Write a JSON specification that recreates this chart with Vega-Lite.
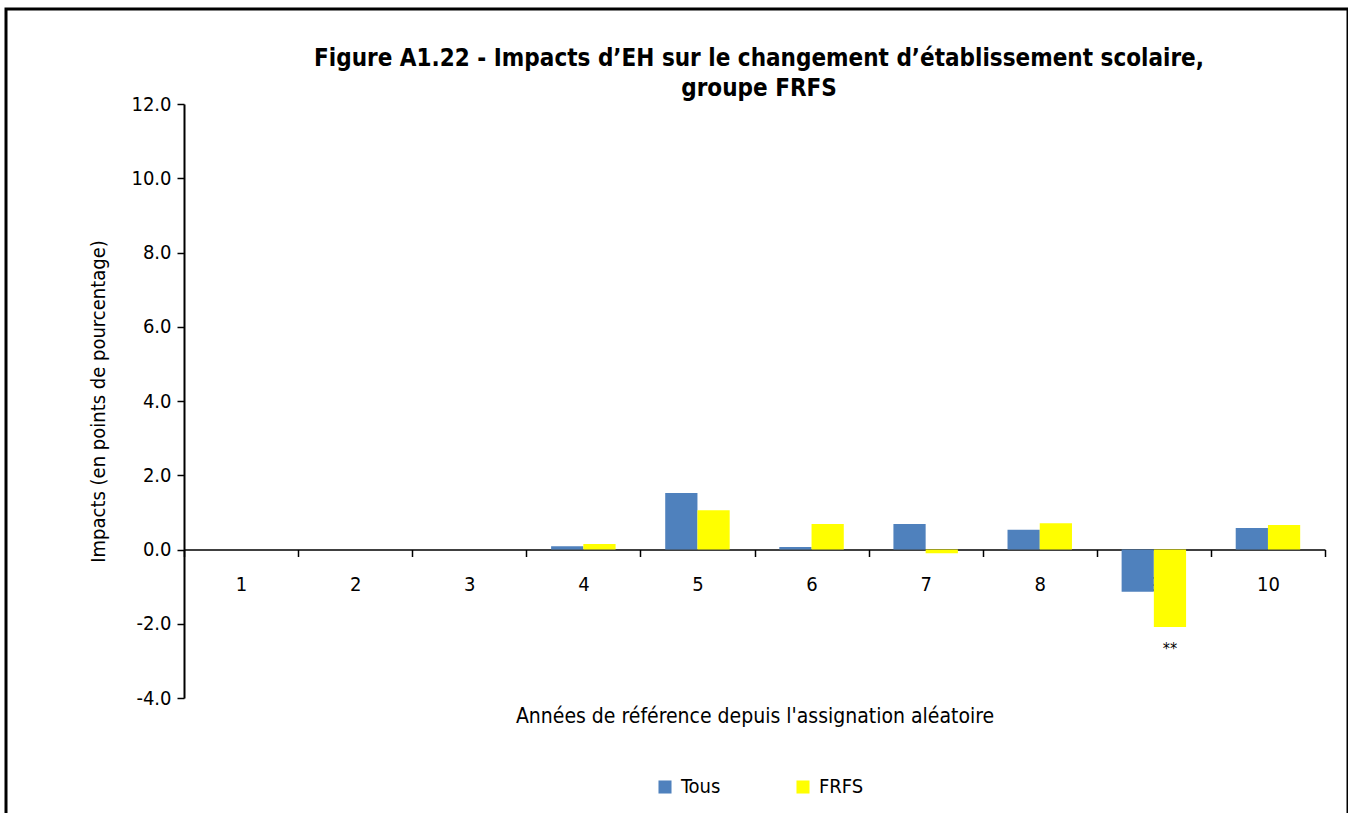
{
  "$schema": "https://vega.github.io/schema/vega-lite/v6.json",
  "width": 1342,
  "height": 806,
  "autosize": {"type": "none"},
  "padding": {"left": 6, "top": 9, "right": 0, "bottom": 0},
  "background": "white",
  "config": {
    "font": "Liberation Sans Narrow, DejaVu Sans Condensed, sans-serif",
    "view": {"stroke": "black", "strokeWidth": 3}
  },
  "title": {
    "text": ["Figure A1.22 - Impacts d’EH sur le changement d’établissement scolaire,", "groupe FRFS"],
    "font": "Liberation Sans Narrow, DejaVu Sans Condensed, sans-serif",
    "fontSize": 24,
    "fontWeight": "bold",
    "color": "black",
    "lineHeight": 30,
    "anchor": "middle",
    "dx": 82,
    "offset": -92
  },
  "data": {
    "values": [
      {"year": 1, "group": "Tous", "value": null, "sig": null},
      {"year": 1, "group": "FRFS", "value": null, "sig": null},
      {"year": 2, "group": "Tous", "value": null, "sig": null},
      {"year": 2, "group": "FRFS", "value": null, "sig": null},
      {"year": 3, "group": "Tous", "value": null, "sig": null},
      {"year": 3, "group": "FRFS", "value": null, "sig": null},
      {"year": 4, "group": "Tous", "value": 0.09, "sig": null},
      {"year": 4, "group": "FRFS", "value": 0.15, "sig": null},
      {"year": 5, "group": "Tous", "value": 1.52, "sig": null},
      {"year": 5, "group": "FRFS", "value": 1.06, "sig": null},
      {"year": 6, "group": "Tous", "value": 0.07, "sig": null},
      {"year": 6, "group": "FRFS", "value": 0.69, "sig": null},
      {"year": 7, "group": "Tous", "value": 0.69, "sig": null},
      {"year": 7, "group": "FRFS", "value": -0.1, "sig": null},
      {"year": 8, "group": "Tous", "value": 0.53, "sig": null},
      {"year": 8, "group": "FRFS", "value": 0.71, "sig": null},
      {"year": 9, "group": "Tous", "value": -1.14, "sig": null},
      {"year": 9, "group": "FRFS", "value": -2.09, "sig": "**"},
      {"year": 10, "group": "Tous", "value": 0.58, "sig": null},
      {"year": 10, "group": "FRFS", "value": 0.66, "sig": null}
    ]
  },
  "encoding": {
    "x": {
      "field": "year",
      "type": "ordinal",
      "scale": {"domain": [1, 2, 3, 4, 5, 6, 7, 8, 9, 10], "range": [178, 1319], "paddingInner": 0, "paddingOuter": 0},
      "axis": {
        "orient": "bottom",
        "offset": -265.5,
        "labelAngle": 0,
        "title": "Années de référence depuis l'assignation aléatoire",
        "titleFontSize": 21,
        "titleFontWeight": "normal",
        "titleColor": "black",
        "titlePadding": 111,
        "labelFontSize": 20,
        "labelColor": "black",
        "labelPadding": 18,
        "tickBand": "extent",
        "tickSize": 7,
        "tickColor": "black",
        "tickWidth": 1.5,
        "domainColor": "black",
        "domainWidth": 1.5,
        "grid": false
      }
    },
    "xOffset": {
      "field": "group",
      "type": "nominal",
      "sort": ["Tous", "FRFS"],
      "scale": {"paddingInner": 0, "paddingOuter": 0.77}
    },
    "y": {
      "field": "value",
      "type": "quantitative",
      "scale": {"domain": [-4, 12], "range": [689, 95], "nice": false, "zero": false},
      "axis": {
        "orient": "left",
        "offset": -178,
        "values": [-4, -2, 0, 2, 4, 6, 8, 10, 12],
        "labelExpr": "datum.value < 0 ? '-' + format(-datum.value, '.1f') : format(datum.value, '.1f')",
        "title": "Impacts (en points de pourcentage)",
        "titleFontSize": 20,
        "titleFontWeight": "normal",
        "titleColor": "black",
        "titlePadding": 22,
        "labelFontSize": 20,
        "labelColor": "black",
        "labelPadding": 6,
        "tickSize": 7,
        "tickColor": "black",
        "tickWidth": 1.5,
        "domainColor": "black",
        "domainWidth": 2,
        "grid": false
      }
    }
  },
  "layer": [
    {
      "mark": {"type": "bar"},
      "encoding": {
        "color": {
          "field": "group",
          "type": "nominal",
          "sort": ["Tous", "FRFS"],
          "scale": {"domain": ["Tous", "FRFS"], "range": ["#4F81BD", "#FFFF00"]},
          "legend": {
            "title": null,
            "orient": "none",
            "direction": "horizontal",
            "legendX": 649,
            "legendY": 768,
            "symbolType": "square",
            "symbolSize": 170,
            "symbolStrokeWidth": 0,
            "labelFontSize": 20,
            "labelColor": "black",
            "labelOffset": 6,
            "columnPadding": 72
          }
        }
      }
    },
    {
      "transform": [{"filter": "datum.sig != null"}],
      "mark": {"type": "text", "baseline": "top", "dy": 14, "fontSize": 16, "color": "black"},
      "encoding": {"text": {"field": "sig"}}
    }
  ]
}
